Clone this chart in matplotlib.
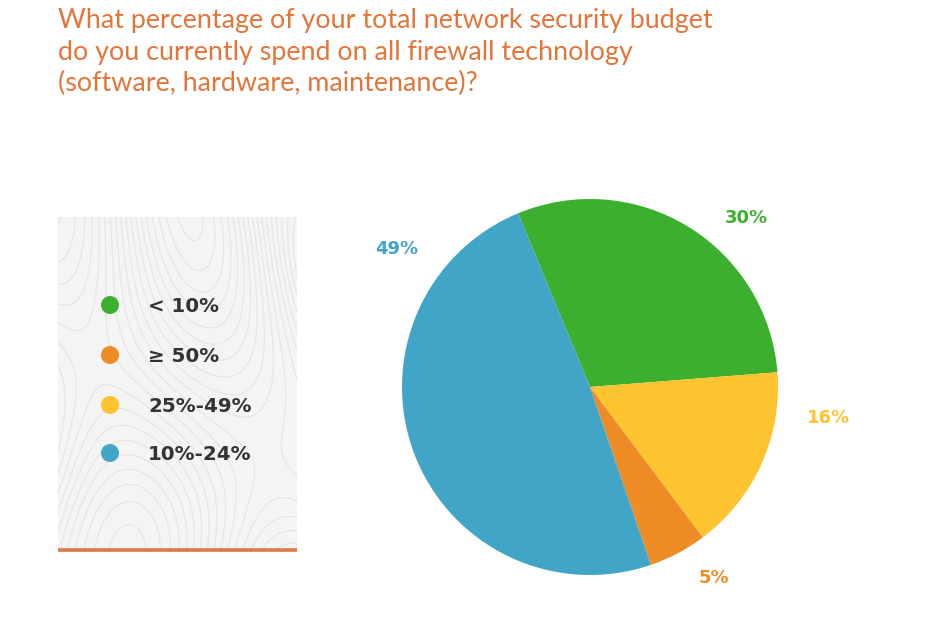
import numpy as np
import matplotlib
matplotlib.use("Agg")
import matplotlib.pyplot as plt
from matplotlib.patches import Circle

# ---- data ----
categories = ["< 10%", "25%-49%", "≥ 50%", "10%-24%"]
values = [30, 16, 5, 49]
value_labels = ["30%", "16%", "5%", "49%"]
colors = ["#3DAF2F", "#FEC42F", "#EE8C26", "#41A5C8"]
legend_order = ["< 10%", "≥ 50%", "25%-49%", "10%-24%"]
title = ("What percentage of your total network security budget\n"
         "do you currently spend on all firewall technology\n"
         "(software, hardware, maintenance)?")

W, H = 942, 642
fig = plt.figure(figsize=(W / 100, H / 100), dpi=100)
fig.patch.set_facecolor("white")

def px_axes(x0, y0, x1, y1):
    return fig.add_axes([x0 / W, 1 - y1 / H, (x1 - x0) / W, (y1 - y0) / H])

# ---- title ----
fig.text(58 / W, 1 - 8 / H, title, ha="left", va="top", fontsize=19.4,
         family="Lato", color="#E2763A", linespacing=1.33)

# ---- legend panel ----
lax = px_axes(58, 217, 297, 552)
lax.set_xlim(0, 1)
lax.set_ylim(0, 1)
lax.set_facecolor("#F4F4F4")
for s in lax.spines.values():
    s.set_visible(False)
lax.set_xticks([])
lax.set_yticks([])
gx, gy = np.meshgrid(np.linspace(0, 1, 300), np.linspace(0, 1, 300))
field = (np.sin(5.1 * gx + 2.3 * gy) + 0.9 * np.cos(4.3 * gy - 2.7 * gx + 0.6)
         + 0.6 * np.sin(7.2 * gx * gy + 0.4) + 0.4 * np.cos(6.0 * gy + 1.1))
lax.contour(gx, gy, field, levels=26, colors="#E4E4E4", linewidths=0.8,
            linestyles="solid")
lax.axhline(0.006, color="#E07A45", lw=2.6)

legend_rows_y = [305, 355, 405, 453]
cmap = dict(zip(categories, colors))
for name, yy in zip(legend_order, legend_rows_y):
    fig.add_artist(Circle((110, H - yy), 9, transform=None,
                          facecolor=cmap[name], edgecolor="none"))
    fig.text(148 / W, 1 - yy / H, name, ha="left", va="center_baseline",
             fontsize=14.3, family="DejaVu Sans", weight="bold",
             color="#333333")

# ---- pie ----
cx, cy, R = 590, 387, 188
pax = px_axes(cx - R, cy - R, cx + R, cy + R)
pax.pie(values, colors=colors, startangle=112.5, counterclock=False,
        radius=1.0, wedgeprops=dict(linewidth=0))
pax.set_xlim(-1, 1)
pax.set_ylim(-1, 1)
pax.set_aspect("equal")
pax.axis("off")

# label placement (angle deg, radius factor)
label_pos = [(47.6, 1.23), (-7.0, 1.28), (-56.8, 1.20), (144.0, 1.27)]
for txt, col, (ang, rf) in zip(value_labels, colors, label_pos):
    a = np.deg2rad(ang)
    pax.text(rf * np.cos(a), rf * np.sin(a), txt, ha="center",
             va="center_baseline", fontsize=13, family="DejaVu Sans",
             weight="bold", color=col, clip_on=False)

fig.savefig("out.png", dpi=100, facecolor="white")
